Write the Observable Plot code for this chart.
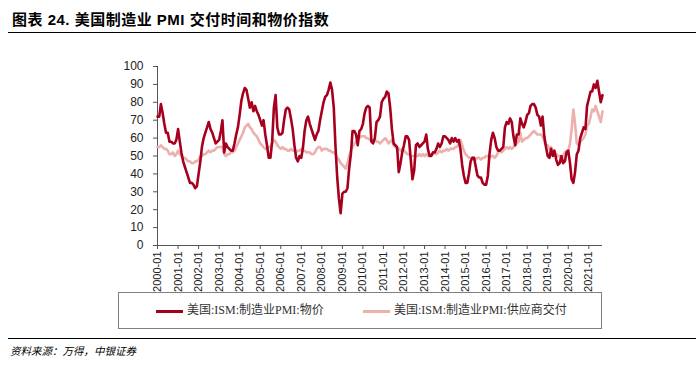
<!DOCTYPE html>
<html><head><meta charset="utf-8">
<script src="https://cdn.jsdelivr.net/npm/d3@7"></script>
<script src="https://cdn.jsdelivr.net/npm/@observablehq/plot@0.6"></script>
<style>
body{margin:0;background:#fff;}
#wrap{position:relative;width:700px;height:366px;overflow:hidden;background:#fff;}
#title{position:absolute;left:12px;top:10px;font-size:15px;line-height:20px;font-weight:bold;letter-spacing:0.5px;color:#000;font-family:"Liberation Sans","Noto Sans CJK SC",sans-serif;white-space:nowrap;}
#rule1{position:absolute;left:8px;top:32px;width:688px;border-top:1.3px solid #000;}
#chart{position:absolute;left:0;top:40px;}
#legend{position:absolute;left:118px;top:292px;width:484px;height:37px;border:1px solid #808080;box-sizing:border-box;font-family:"Liberation Serif","Noto Sans CJK SC",serif;font-size:12px;color:#333;}
.sw{position:absolute;top:17px;width:27px;height:0;border-top:3px solid;}
.lt{position:absolute;top:9px;line-height:16px;white-space:nowrap;}
#rule2{position:absolute;left:8px;top:338px;width:688px;border-top:1.3px solid #000;}
#src{position:absolute;left:10px;top:343px;font-size:10.5px;line-height:16px;font-style:italic;color:#000;font-family:"Noto Sans CJK SC",sans-serif;white-space:nowrap;}
</style></head>
<body>
<div id="wrap">
  <div id="title">图表 24. 美国制造业 PMI 交付时间和物价指数</div>
  <div id="rule1"></div>
  <div id="chart"></div>
  <div id="legend">
    <div class="sw" style="left:37px;border-color:#A6001E"></div>
    <div class="lt" style="left:68px">美国:ISM:制造业PMI:物价</div>
    <div class="sw" style="left:244px;border-color:#ECB1AC"></div>
    <div class="lt" style="left:275px">美国:ISM:制造业PMI:供应商交付</div>
  </div>
  <div id="rule2"></div>
  <div id="src">资料来源：万得，中银证券</div>
</div>
<script>
// Monthly data, 2000-01 .. 2021-09
const years = d3.range(2000, 2022);
const lastYearMonths = 9;

const seriesNames = ["美国:ISM:制造业PMI:物价", "美国:ISM:制造业PMI:供应商交付"];

const priceIndex = [
  72, 72, 79, 74, 68, 63, 63, 58, 58, 57, 57, 59, // 2000
  65, 58, 52, 47, 44, 41, 38, 35, 35, 34, 32, 33, // 2001
  40, 47, 55, 60, 63, 66, 69, 65, 63, 60, 57, 58, // 2002
  59, 64, 70, 52, 57, 55, 54, 53, 53, 57, 62, 66, // 2003
  73, 81, 85, 88, 87, 82, 77, 80, 75, 78, 75, 73, // 2004
  70, 67, 70, 62, 56, 49, 49, 58, 77, 84, 66, 62, // 2005
  62, 63, 70, 76, 77, 76, 71, 65, 56, 49, 47, 50, // 2006
  49, 55, 64, 70, 72, 68, 65, 62, 59, 62, 64, 70, // 2007
  75, 80, 83, 84, 87, 91, 87, 77, 55, 38, 26, 18, // 2008
  29, 30, 30, 32, 43, 51, 64, 64, 62, 56, 64, 65, // 2009
  68, 74, 77, 78, 77, 58, 57, 60, 69, 70, 72, 80, // 2010
  82, 83, 86, 85, 77, 65, 57, 56, 55, 41, 46, 52, // 2011
  56, 61, 61, 59, 48, 37, 42, 56, 57, 55, 56, 57, // 2012
  58, 62, 54, 50, 50, 52, 52, 54, 57, 55, 57, 61, // 2013
  61, 60, 59, 57, 60, 58, 60, 58, 59, 54, 45, 39, // 2014
  35, 35, 40, 47, 49, 49, 44, 39, 38, 38, 35, 34, // 2015
  34, 39, 51, 59, 63, 60, 55, 53, 53, 54, 55, 66, // 2016
  69, 68, 71, 69, 61, 56, 62, 62, 71, 68, 66, 69, // 2017
  73, 74, 78, 79, 79, 77, 73, 72, 67, 72, 61, 55, // 2018
  50, 49, 54, 50, 53, 48, 45, 46, 50, 46, 47, 52, // 2019
  53, 46, 37, 35, 41, 51, 53, 60, 63, 66, 65, 78, // 2020
  82, 86, 86, 90, 88, 92, 86, 80, 84              // 2021
];

const supplierDeliveries = [
  55, 55, 56, 55, 54, 54, 53, 51, 51, 52, 50, 51, // 2000
  53, 51, 50, 49, 49, 48, 47, 47, 46, 46, 47, 47, // 2001
  48, 50, 50, 51, 51, 52, 53, 52, 53, 53, 54, 55, // 2002
  55, 55, 55, 51, 50, 51, 51, 52, 52, 53, 55, 57, // 2003
  59, 61, 63, 66, 67, 68, 66, 65, 63, 62, 61, 59, // 2004
  57, 56, 55, 54, 54, 55, 55, 57, 59, 58, 56, 55, // 2005
  54, 55, 54, 54, 53, 53, 54, 53, 53, 52, 53, 53, // 2006
  54, 53, 53, 52, 52, 52, 51, 51, 52, 54, 55, 55, // 2007
  53, 54, 54, 54, 53, 53, 52, 52, 51, 49, 48, 46, // 2008
  45, 44, 43, 46, 50, 53, 55, 57, 58, 59, 60, 61, // 2009
  61, 61, 60, 60, 59, 59, 58, 59, 58, 58, 57, 58, // 2010
  59, 60, 59, 57, 58, 59, 56, 55, 54, 54, 53, 54, // 2011
  53, 52, 51, 51, 50, 50, 50, 50, 50, 51, 50, 51, // 2012
  50, 51, 50, 50, 51, 51, 52, 51, 52, 53, 52, 53, // 2013
  53, 54, 53, 54, 54, 54, 55, 55, 57, 59, 56, 53, // 2014
  51, 50, 49, 49, 49, 49, 48, 49, 49, 48, 49, 49, // 2015
  50, 50, 49, 50, 50, 49, 50, 52, 53, 52, 53, 54, // 2016
  55, 54, 55, 54, 55, 56, 57, 58, 63, 58, 59, 60, // 2017
  60, 61, 62, 63, 64, 63, 62, 62, 62, 61, 58, 56, // 2018
  56, 54, 55, 53, 52, 51, 50, 50, 49, 50, 52, 53, // 2019
  53, 57, 65, 76, 68, 57, 56, 58, 59, 60, 62, 67, // 2020
  68, 72, 76, 75, 78, 75, 72, 69, 75              // 2021
];

const yTicks = d3.range(0, 101, 10);
const xTickYears = years;

const dates = [];
years.forEach(y => {
  const n = y === 2021 ? lastYearMonths : 12;
  for (let m = 0; m < n; m++) dates.push(new Date(Date.UTC(y, m, 1)));
});
const data = dates.map((d, i) => ({date: d, price: priceIndex[i], delivery: supplierDeliveries[i]}));
const start = dates[0], end = dates[dates.length - 1];
const tickDates = xTickYears.map(y => new Date(Date.UTC(y, 0, 1)));

const chart = Plot.plot({
  width: 700,
  height: 260,
  marginLeft: 157,
  marginRight: 98,
  marginTop: 26,
  marginBottom: 55,
  x: {type: "utc", domain: [start, end]},
  y: {domain: [0, 100]},
  style: {fontFamily: "Liberation Sans, Arial, sans-serif", color: "#222", background: "transparent"},
  marks: [
    Plot.axisY({ticks: yTicks, tickSize: 4, tickPadding: 10, fontSize: 12, label: null, stroke: "#555"}),
    Plot.axisX({ticks: tickDates, tickFormat: d3.utcFormat("%Y-%m"), tickRotate: -90, tickSize: 4, tickPadding: 2, fontSize: 11, label: null, stroke: "#555"}),
    Plot.ruleX([start], {stroke: "#555"}),
    Plot.ruleY([0], {stroke: "#555"}),
    Plot.lineY(data, {x: "date", y: "delivery", stroke: "#ECB1AC", strokeWidth: 2.6}),
    Plot.lineY(data, {x: "date", y: "price", stroke: "#A6001E", strokeWidth: 2.6})
  ]
});
document.getElementById("chart").appendChild(chart);
</script>
</body></html>
